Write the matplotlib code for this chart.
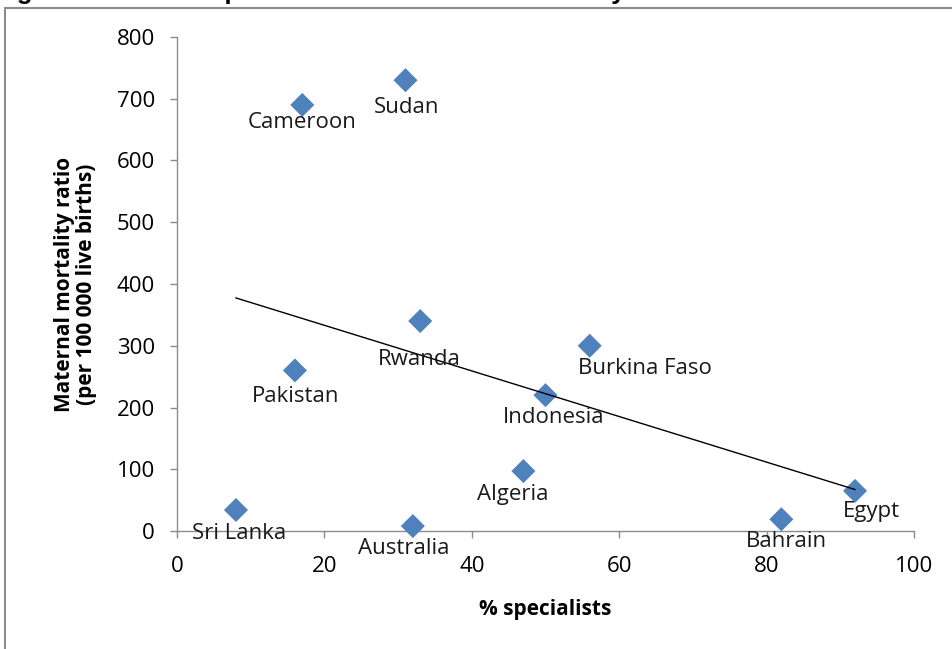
import numpy as np
import matplotlib
matplotlib.use("Agg")
import matplotlib.pyplot as plt
from matplotlib.patches import Rectangle

countries = ["Cameroon", "Sudan", "Rwanda", "Burkina Faso", "Pakistan", "Indonesia",
             "Algeria", "Sri Lanka", "Australia", "Bahrain", "Egypt"]
pct_specialists = [17, 31, 33, 56, 16, 50, 47, 8, 32, 82, 92]
maternal_mortality = [690, 730, 340, 300, 260, 220, 97, 34, 8, 19, 65]
x_ticks = [0, 20, 40, 60, 80, 100]
y_ticks = [0, 100, 200, 300, 400, 500, 600, 700, 800]

# label offsets in pixels (dx right, dy down)
label_offsets_px = {
    "Cameroon": (0, 18), "Sudan": (1, 27), "Rwanda": (-1, 38),
    "Burkina Faso": (55, 23), "Pakistan": (1, 26), "Indonesia": (8, 22),
    "Algeria": (-11, 23), "Sri Lanka": (3, 23), "Australia": (-9, 22),
    "Bahrain": (5, 22), "Egypt": (16, 21),
}

plt.rcParams['font.family'] = ['Open Sans', 'DejaVu Sans']

W, H = 953, 649
fig = plt.figure(figsize=(W / 100, H / 100), dpi=100)

# outer frame (partially cropped)
fig.patches.append(Rectangle((5 / W, -0.1), 1.2, 1.1 - 8 / H, transform=fig.transFigure,
                             fill=False, edgecolor='#8c8c8c', linewidth=1.5, zorder=0))
# cropped title (only its lowest part is visible, as in the source)
fig.text(-6 / W, 1 + 1 / H, "Figure 4. Percent specialists and maternal mortality",
         ha='left', va='baseline', fontsize=18.5, fontweight='bold', color='black',
         family=['Liberation Sans', 'DejaVu Sans'])

ax = fig.add_axes([177 / W, 1 - 531 / H, (914 - 177) / W, (531 - 37) / H])
ax.set_xlim(0, 100)
ax.set_ylim(0, 800)
ax.set_xticks(x_ticks)
ax.set_yticks(y_ticks)
for s in ['top', 'right']:
    ax.spines[s].set_visible(False)
for s in ['left', 'bottom']:
    ax.spines[s].set_color('#8c8c8c')
    ax.spines[s].set_linewidth(1.0)
ax.tick_params(axis='both', direction='out', length=5, width=1.0, color='#8c8c8c',
               labelsize=16, labelcolor='black')
ax.tick_params(axis='y', pad=11)
ax.tick_params(axis='x', pad=13)

ax.scatter(pct_specialists, maternal_mortality, marker='D', s=150, color='#4F81BD',
           edgecolors='none', zorder=3, clip_on=False)

# linear trend line
coef = np.polyfit(pct_specialists, maternal_mortality, 1)
xs = np.array([min(pct_specialists), max(pct_specialists)])
ax.plot(xs, np.polyval(coef, xs), color='black', linewidth=1.0, zorder=4)

for c, xv, yv in zip(countries, pct_specialists, maternal_mortality):
    dx, dy = label_offsets_px[c]
    ax.annotate(c, (xv, yv), xytext=(dx * 0.72, -dy * 0.72), textcoords='offset points',
                ha='center', va='center', fontsize=16, color='#1a1a1a', zorder=5,
                annotation_clip=False)

ax.set_xlabel("% specialists", fontsize=15, fontweight='bold', labelpad=16)
ax.set_ylabel("Maternal mortality ratio\n(per 100 000 live births)", fontsize=15,
              fontweight='bold', labelpad=14, linespacing=1.05)

fig.savefig("out.png", dpi=100)
